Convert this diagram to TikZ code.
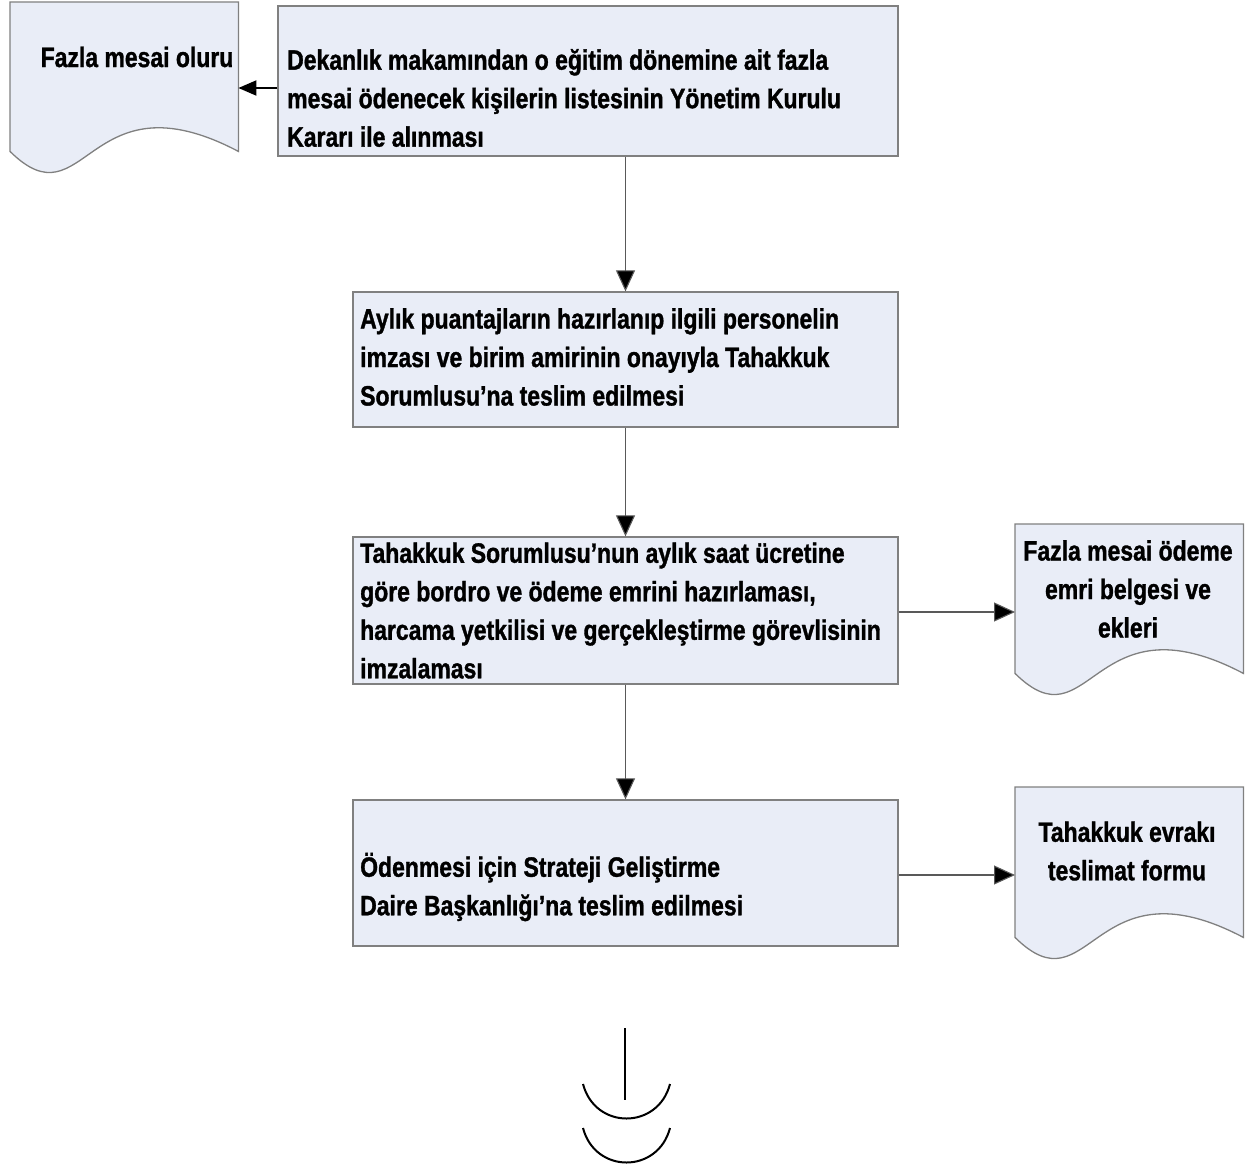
\documentclass[tikz,border=0pt]{standalone}
\usepackage{fontspec}
\setmainfont{Liberation Sans}[FakeStretch=0.82,BoldFeatures={FakeBold=1.2}]
\usetikzlibrary{arrows.meta,calc}
\definecolor{boxfill}{HTML}{E9EDF7}
\definecolor{boxline}{HTML}{808080}
\newcommand{\txtfont}{\bfseries\fontsize{28}{38.5}\selectfont}
\newcommand{\docshape}[1]{%
  \filldraw[docline] (#1.south west) -- (#1.north west) -- (#1.north east) -- (#1.south east)
    .. controls ($(#1.south east)+(-152,-80)$) and ($(#1.south west)+(76,75)$) .. (#1.south west) -- cycle;}
\begin{document}
\begin{tikzpicture}[x=1pt,y=-1pt,
  procbox/.style={draw=boxline,fill=boxfill,line width=1.3pt,rectangle,inner sep=0pt},
  docbox/.style={rectangle,inner sep=0pt,minimum width=228pt,anchor=north west},
  docline/.style={draw=boxline,fill=boxfill,line width=1.3pt},
  txt/.style={inner sep=0pt,align=left,font=\txtfont,text=black},
  dtxt/.style={inner sep=0pt,align=center,font=\txtfont,text=black},
  flow/.style={draw=black!65,line width=1.1pt,-{Triangle[length=21pt,width=19pt,fill=black]}},
  flowL/.style={draw=black,line width=2pt,-{Triangle[length=18pt,width=15pt,fill=black]}},
  endline/.style={draw=black,line width=2pt}]
\useasboundingbox (0,0) rectangle (1257,1169);
\fill[white] (0,0) rectangle (1257,1169);

% process boxes
\node[procbox,minimum width=620pt,minimum height=150pt] (b1) at (588,81) {};
\node[procbox,minimum width=545pt,minimum height=135pt] (b2) at (625.5,359.5) {};
\node[procbox,minimum width=545pt,minimum height=147pt] (b3) at (625.5,610.5) {};
\node[procbox,minimum width=545pt,minimum height=146pt] (b4) at (625.5,873) {};

% document shapes
\node[docbox,minimum height=149pt] (d1) at (10,2) {};
\node[docbox,minimum height=149pt] (d2) at (1015,524) {};
\node[docbox,minimum height=150pt] (d3) at (1015,787) {};
\docshape{d1}
\docshape{d2}
\docshape{d3}

% texts
\node[txt,anchor=west] (t1) at (287,98) {Dekanlık makamından o eğitim dönemine ait fazla\\mesai ödenecek kişilerin listesinin Yönetim Kurulu\\Kararı ile alınması};
\node[txt,anchor=west] (t2) at (360,357) {Aylık puantajların hazırlanıp ilgili personelin\\imzası ve birim amirinin onayıyla Tahakkuk\\Sorumlusu’na teslim edilmesi};
\node[txt,anchor=west] (t3) at (360,610.5) {Tahakkuk Sorumlusu’nun aylık saat ücretine\\göre bordro ve ödeme emrini hazırlaması,\\harcama yetkilisi ve gerçekleştirme görevlisinin\\imzalaması};
\node[txt,anchor=west] (t4) at (360,887) {Ödenmesi için Strateji Geliştirme\\Daire Başkanlığı’na teslim edilmesi};
\node[dtxt] (dt1) at (137,57) {Fazla mesai oluru};
\node[dtxt] (dt2) at (1128,589) {Fazla mesai ödeme\\emri belgesi ve\\ekleri};
\node[dtxt] (dt3) at (1127,851) {Tahakkuk evrakı\\teslimat formu};

% connectors
\draw[flow] (b1.south -| b2.north) -- (b2.north);
\draw[flow] (b2.south) -- (b3.north);
\draw[flow] (b3.south) -- (b4.north);
\draw[flowL] ([yshift=-7pt]b1.west) -- ([yshift=-7pt]b1.west -| d1.east);
\draw[flow] ([yshift=-1.5pt]b3.east) -- ([yshift=-1.5pt]b3.east -| d2.west);
\draw[flow] ([yshift=-2pt]b4.east) -- ([yshift=-2pt]b4.east -| d3.west);

% end connector symbol
\coordinate (e1) at (625,1028);
\coordinate (e2) at (625,1100);
\coordinate (a1l) at (583,1084);
\coordinate (a1r) at (670,1084);
\coordinate (a2l) at (583,1128);
\coordinate (a2r) at (670,1128);
\draw[endline] (e1) -- (e2);
\draw[endline] (a1l) .. controls ($(a1l)+(12,46)$) and ($(a1r)+(-12,46)$) .. (a1r);
\draw[endline] (a2l) .. controls ($(a2l)+(12,46)$) and ($(a2r)+(-12,46)$) .. (a2r);
\end{tikzpicture}
\end{document}
